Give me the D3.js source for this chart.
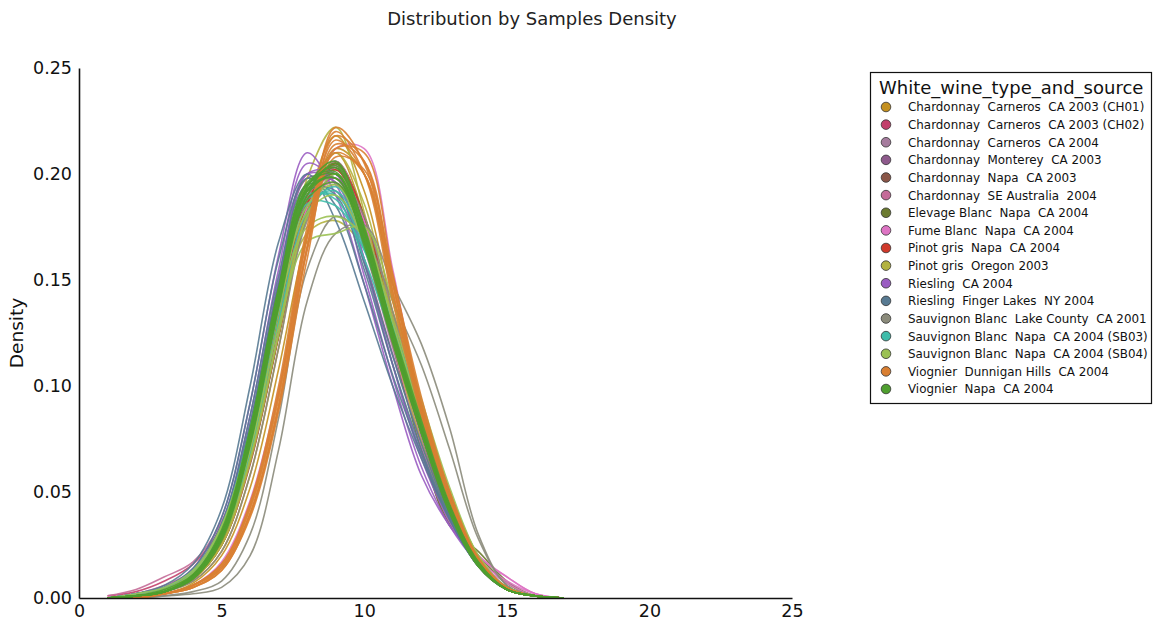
<!DOCTYPE html>
<html>
<head>
<meta charset="utf-8">
<script src="https://cdn.jsdelivr.net/npm/d3@7"></script>
<style>
  body { margin: 0; background: #fff; }
  svg { display: block; font-family: "DejaVu Sans", sans-serif; }
</style>
</head>
<body>
<svg id="chart" width="1154" height="623"></svg>
<script>
// ---- data ----
const xGrid = [1,2,3,4,5,6,7,8,9,10,11,12,13,14,15,16,17];
const xTicks = [0,5,10,15,20,25];
const yTicks = [0.00,0.05,0.10,0.15,0.20,0.25];

const categories = [
  "Chardonnay  Carneros  CA 2003 (CH01)",
  "Chardonnay  Carneros  CA 2003 (CH02)",
  "Chardonnay  Carneros  CA 2004",
  "Chardonnay  Monterey  CA 2003",
  "Chardonnay  Napa  CA 2003",
  "Chardonnay  SE Australia  2004",
  "Elevage Blanc  Napa  CA 2004",
  "Fume Blanc  Napa  CA 2004",
  "Pinot gris  Napa  CA 2004",
  "Pinot gris  Oregon 2003",
  "Riesling  CA 2004",
  "Riesling  Finger Lakes  NY 2004",
  "Sauvignon Blanc  Lake County  CA 2001",
  "Sauvignon Blanc  Napa  CA 2004 (SB03)",
  "Sauvignon Blanc  Napa  CA 2004 (SB04)",
  "Viognier  Dunnigan Hills  CA 2004",
  "Viognier  Napa  CA 2004"
];
const colors = ["#c4901f","#c2406b","#a67c9e","#8e5a8c","#8a5648","#c46b98","#6b7a2f","#de74c4",
  "#d0392b","#b2b23f","#9a5dc2","#587a92","#8b8b7b","#3fbcaa","#9bc153","#d97f32","#4f9f2f"];

const densCH01 = [
  [0,0.001,0.003,0.008,0.022,0.058,0.118,0.185,0.218,0.192,0.135,0.084,0.044,0.017,0.004,0.001,0],
  [0,0.001,0.004,0.010,0.027,0.066,0.128,0.188,0.210,0.180,0.125,0.080,0.043,0.017,0.005,0.001,0],
  [0,0.001,0.002,0.007,0.020,0.052,0.108,0.172,0.212,0.200,0.142,0.088,0.046,0.018,0.005,0.001,0]];
const densCH02 = [
  [0.001,0.003,0.008,0.016,0.034,0.075,0.135,0.185,0.198,0.172,0.125,0.080,0.042,0.016,0.004,0.001,0],
  [0,0.001,0.004,0.011,0.030,0.072,0.135,0.190,0.200,0.172,0.125,0.080,0.043,0.017,0.005,0.001,0],
  [0,0.001,0.003,0.009,0.026,0.065,0.125,0.182,0.205,0.180,0.130,0.082,0.043,0.016,0.004,0.001,0]];
const densCarneros04 = [
  [0,0.002,0.005,0.012,0.032,0.078,0.142,0.195,0.198,0.165,0.118,0.075,0.040,0.016,0.004,0.001,0],
  [0,0.001,0.004,0.010,0.028,0.070,0.132,0.188,0.200,0.170,0.125,0.080,0.042,0.016,0.004,0.001,0],
  [0,0.001,0.003,0.009,0.025,0.064,0.124,0.180,0.203,0.178,0.130,0.083,0.044,0.017,0.004,0.001,0]];
const densMonterey = [
  [0,0.002,0.005,0.013,0.035,0.082,0.148,0.198,0.196,0.160,0.115,0.074,0.040,0.016,0.004,0.001,0],
  [0,0.001,0.004,0.011,0.030,0.073,0.137,0.192,0.200,0.168,0.120,0.077,0.041,0.016,0.004,0.001,0],
  [0,0.001,0.003,0.009,0.026,0.066,0.127,0.184,0.204,0.176,0.127,0.081,0.043,0.017,0.004,0.001,0]];
const densNapa03 = [
  [0,0.001,0.004,0.011,0.029,0.071,0.134,0.190,0.200,0.170,0.122,0.079,0.043,0.015,0.004,0.001,0],
  [0,0.001,0.003,0.009,0.025,0.063,0.123,0.180,0.205,0.180,0.130,0.082,0.043,0.016,0.004,0.001,0],
  [0,0.001,0.003,0.010,0.027,0.068,0.130,0.186,0.202,0.174,0.126,0.080,0.042,0.016,0.004,0.001,0]];
const densSEAus = [
  [0.001,0.004,0.010,0.017,0.036,0.078,0.138,0.186,0.196,0.168,0.122,0.078,0.041,0.016,0.004,0.001,0],
  [0,0.002,0.006,0.013,0.032,0.074,0.136,0.190,0.198,0.168,0.121,0.078,0.042,0.016,0.004,0.001,0],
  [0,0.001,0.004,0.010,0.027,0.066,0.127,0.184,0.204,0.176,0.127,0.080,0.042,0.016,0.004,0.001,0]];
const densElevage = [
  [0,0.001,0.003,0.009,0.026,0.066,0.128,0.186,0.205,0.176,0.124,0.072,0.034,0.022,0.008,0.001,0],
  [0,0.001,0.003,0.010,0.028,0.070,0.132,0.188,0.203,0.172,0.120,0.070,0.035,0.020,0.007,0.001,0],
  [0,0.001,0.003,0.009,0.025,0.064,0.124,0.182,0.206,0.180,0.128,0.080,0.042,0.016,0.004,0.001,0]];
const densFume = [
  [0,0.001,0.002,0.006,0.017,0.046,0.098,0.165,0.212,0.212,0.155,0.090,0.046,0.020,0.010,0.002,0],
  [0,0.001,0.003,0.009,0.025,0.064,0.126,0.184,0.206,0.178,0.122,0.072,0.036,0.020,0.010,0.002,0],
  [0,0.001,0.004,0.011,0.030,0.072,0.135,0.190,0.200,0.170,0.120,0.073,0.038,0.018,0.008,0.002,0],
  [0,0.001,0.003,0.010,0.028,0.070,0.132,0.188,0.204,0.174,0.124,0.074,0.036,0.017,0.007,0.001,0]];
const densPinotNapa = [
  [0,0.001,0.003,0.010,0.027,0.068,0.130,0.186,0.202,0.174,0.130,0.085,0.046,0.017,0.004,0.001,0],
  [0,0.001,0.003,0.009,0.025,0.064,0.124,0.182,0.205,0.180,0.132,0.086,0.045,0.016,0.004,0.001,0],
  [0,0.001,0.004,0.011,0.029,0.070,0.132,0.188,0.200,0.172,0.128,0.084,0.046,0.017,0.004,0.001,0]];
const densPinotOregon = [
  [0,0.001,0.003,0.009,0.025,0.066,0.132,0.198,0.222,0.182,0.122,0.074,0.038,0.015,0.004,0.001,0],
  [0,0.001,0.003,0.010,0.028,0.070,0.130,0.180,0.195,0.172,0.128,0.084,0.046,0.018,0.005,0.001,0],
  [0,0.001,0.004,0.011,0.030,0.072,0.130,0.172,0.178,0.165,0.135,0.092,0.050,0.020,0.005,0.001,0],
  [0,0.001,0.003,0.009,0.025,0.064,0.124,0.182,0.210,0.186,0.130,0.080,0.042,0.016,0.004,0.001,0]];
const densRieslingCA = [
  [0,0.002,0.005,0.014,0.038,0.092,0.162,0.210,0.190,0.148,0.100,0.058,0.034,0.018,0.005,0.001,0],
  [0,0.002,0.005,0.013,0.035,0.086,0.155,0.205,0.195,0.152,0.104,0.062,0.034,0.016,0.004,0.001,0],
  [0,0.001,0.004,0.012,0.032,0.078,0.145,0.200,0.200,0.160,0.110,0.066,0.036,0.016,0.004,0.001,0],
  [0,0.002,0.005,0.013,0.034,0.082,0.150,0.200,0.196,0.158,0.110,0.068,0.038,0.016,0.004,0.001,0]];
const densRieslingFL = [
  [0,0.002,0.006,0.016,0.042,0.100,0.168,0.200,0.178,0.140,0.100,0.066,0.037,0.015,0.004,0.001,0],
  [0,0.002,0.005,0.014,0.038,0.092,0.160,0.198,0.185,0.148,0.105,0.068,0.037,0.015,0.004,0.001,0],
  [0,0.002,0.005,0.013,0.035,0.086,0.152,0.195,0.190,0.155,0.110,0.070,0.038,0.015,0.004,0.001,0],
  [0,0.001,0.004,0.012,0.033,0.082,0.148,0.192,0.192,0.158,0.114,0.073,0.039,0.015,0.004,0.001,0]];
const densSBLake = [
  [0,0,0.001,0.002,0.005,0.020,0.070,0.140,0.172,0.176,0.148,0.120,0.080,0.030,0.006,0.001,0],
  [0,0,0.001,0.003,0.008,0.030,0.085,0.155,0.180,0.170,0.140,0.110,0.070,0.028,0.006,0.001,0],
  [0,0.001,0.003,0.008,0.022,0.058,0.118,0.178,0.200,0.180,0.135,0.090,0.048,0.018,0.004,0.001,0]];
const densSB03 = [
  [0,0.001,0.004,0.012,0.032,0.076,0.140,0.188,0.190,0.165,0.126,0.086,0.048,0.019,0.005,0.001,0],
  [0,0.001,0.004,0.011,0.030,0.072,0.135,0.185,0.192,0.168,0.128,0.087,0.048,0.019,0.005,0.001,0],
  [0,0.002,0.005,0.013,0.034,0.080,0.144,0.190,0.188,0.160,0.122,0.084,0.046,0.018,0.005,0.001,0],
  [0,0.001,0.003,0.010,0.028,0.068,0.130,0.182,0.194,0.170,0.130,0.088,0.049,0.019,0.005,0.001,0],
  [0,0.001,0.004,0.011,0.031,0.074,0.138,0.186,0.185,0.164,0.128,0.088,0.049,0.019,0.005,0.001,0]];
const densSB04 = [
  [0,0.001,0.004,0.012,0.033,0.078,0.138,0.175,0.180,0.170,0.132,0.090,0.050,0.020,0.005,0.001,0],
  [0,0.001,0.003,0.010,0.029,0.070,0.128,0.168,0.172,0.175,0.140,0.094,0.052,0.020,0.005,0.001,0],
  [0,0.001,0.004,0.011,0.030,0.074,0.136,0.185,0.195,0.168,0.126,0.085,0.046,0.018,0.005,0.001,0],
  [0,0.001,0.003,0.010,0.027,0.066,0.125,0.180,0.200,0.175,0.130,0.086,0.046,0.018,0.004,0.001,0],
  [0,0.002,0.005,0.013,0.034,0.078,0.140,0.182,0.190,0.168,0.126,0.084,0.046,0.018,0.005,0.001,0]];
const densViognierDH = [
  [0,0,0.002,0.006,0.014,0.040,0.090,0.165,0.218,0.206,0.148,0.090,0.047,0.018,0.004,0.001,0],
  [0,0,0.002,0.006,0.015,0.042,0.094,0.170,0.222,0.205,0.145,0.088,0.046,0.017,0.004,0.001,0],
  [0,0.001,0.002,0.006,0.016,0.044,0.097,0.172,0.216,0.200,0.144,0.088,0.047,0.018,0.004,0.001,0],
  [0,0,0.002,0.005,0.013,0.038,0.088,0.160,0.212,0.210,0.153,0.092,0.048,0.018,0.004,0.001,0],
  [0,0.001,0.002,0.006,0.016,0.045,0.100,0.175,0.220,0.200,0.140,0.086,0.046,0.017,0.004,0.001,0],
  [0,0,0.002,0.005,0.014,0.040,0.091,0.166,0.214,0.206,0.150,0.090,0.047,0.018,0.004,0.001,0],
  [0,0.001,0.002,0.006,0.015,0.043,0.096,0.170,0.210,0.200,0.148,0.092,0.050,0.019,0.005,0.001,0],
  [0,0,0.002,0.005,0.013,0.039,0.090,0.164,0.208,0.202,0.152,0.095,0.050,0.019,0.005,0.001,0]];
const densViognierNapa = [
  [0,0.001,0.003,0.010,0.030,0.078,0.145,0.195,0.200,0.168,0.122,0.080,0.042,0.016,0.004,0.001,0],
  [0,0.001,0.003,0.010,0.029,0.075,0.140,0.192,0.204,0.172,0.124,0.080,0.042,0.016,0.004,0.001,0],
  [0,0.001,0.003,0.011,0.031,0.079,0.146,0.196,0.201,0.166,0.120,0.078,0.041,0.016,0.004,0.001,0],
  [0,0.001,0.003,0.009,0.027,0.072,0.137,0.190,0.205,0.175,0.126,0.081,0.042,0.016,0.004,0.001,0],
  [0,0.001,0.004,0.011,0.032,0.080,0.146,0.192,0.198,0.168,0.122,0.080,0.042,0.016,0.004,0.001,0],
  [0,0.001,0.003,0.010,0.029,0.076,0.142,0.194,0.203,0.170,0.121,0.078,0.040,0.015,0.004,0.001,0],
  [0,0.001,0.003,0.010,0.030,0.077,0.143,0.193,0.198,0.168,0.124,0.082,0.043,0.017,0.004,0.001,0],
  [0,0.001,0.003,0.009,0.028,0.073,0.138,0.190,0.200,0.172,0.126,0.082,0.042,0.016,0.004,0.001,0],
  [0,0.001,0.003,0.010,0.030,0.076,0.140,0.188,0.196,0.170,0.127,0.084,0.044,0.017,0.004,0.001,0],
  [0,0.001,0.003,0.010,0.029,0.074,0.140,0.194,0.206,0.174,0.124,0.078,0.040,0.015,0.004,0.001,0]];

const seriesByCategory = [densCH01, densCH02, densCarneros04, densMonterey, densNapa03, densSEAus,
  densElevage, densFume, densPinotNapa, densPinotOregon, densRieslingCA, densRieslingFL,
  densSBLake, densSB03, densSB04, densViognierDH, densViognierNapa];

// ---- drawing ----
const svg = d3.select("#chart");
const x = d3.scaleLinear().domain([0, 25]).range([79, 792]);
const y = d3.scaleLinear().domain([0, 0.25]).range([598, 68]);

svg.append("text")
  .attr("x", 532).attr("y", 25)
  .attr("text-anchor", "middle")
  .attr("font-size", 18).attr("fill", "#222")
  .text("Distribution by Samples Density");

svg.append("defs").append("clipPath").attr("id", "plotclip")
  .append("rect").attr("x", 79).attr("y", 40).attr("width", 713).attr("height", 558);

const line = d3.line()
  .x((d, i) => x(xGrid[i]))
  .y(d => y(d))
  .curve(d3.curveCatmullRom.alpha(0.5));

const g = svg.append("g").attr("clip-path", "url(#plotclip)");
seriesByCategory.forEach((curves, ci) => {
  curves.forEach(vals => {
    g.append("path")
      .attr("d", line(vals))
      .attr("fill", "none")
      .attr("stroke", colors[ci])
      .attr("stroke-width", 1.6)
      .attr("stroke-opacity", 0.9);
  });
});

// axes
const yAxis = d3.axisLeft(y).tickValues(yTicks).tickFormat(d3.format(".2f"))
  .tickSize(0).tickSizeOuter(0).tickPadding(7);
const yg = svg.append("g").attr("transform", "translate(79,0)").call(yAxis);
const xAxis = d3.axisBottom(x).tickValues(xTicks).tickFormat(d3.format("d"))
  .tickSize(0).tickSizeOuter(0).tickPadding(7);
const xg = svg.append("g").attr("transform", "translate(0,598)").call(xAxis);
[yg, xg].forEach(a => {
  a.select(".domain").attr("stroke", "#111").attr("stroke-width", 1.6);
  a.selectAll("text").attr("font-size", 17.5).attr("fill", "#111")
    .attr("font-family", "DejaVu Sans, sans-serif");
});

svg.append("text")
  .attr("transform", "translate(17,333) rotate(-90)")
  .attr("text-anchor", "middle")
  .attr("dy", "0.35em")
  .attr("font-size", 18.5).attr("fill", "#111")
  .text("Density");

// legend
const lg = svg.append("g");
lg.append("rect").attr("x", 870.5).attr("y", 72.5).attr("width", 281).attr("height", 331)
  .attr("fill", "#fff").attr("stroke", "#111").attr("stroke-width", 1.2);
lg.append("text").attr("x", 879).attr("y", 94).attr("font-size", 18).attr("fill", "#111")
  .text("White_wine_type_and_source");
const ly = d3.scaleLinear().domain([0, categories.length - 1]).range([107, 389]);
const items = categories.map((c, i) => {
  lg.append("circle").attr("cx", 886).attr("cy", ly(i)).attr("r", 4.8)
    .attr("fill", colors[i]).attr("stroke", "#333").attr("stroke-width", 0.8);
  return lg.append("text").attr("x", 908).attr("y", ly(i) + 4.4)
    .attr("font-size", 12).attr("fill", "#111")
    .attr("xml:space", "preserve").style("white-space", "pre")
    .text(c);
});
// fit the widest legend entry to the width it takes in the reference
const maxW = d3.max(items, t => t.node().getComputedTextLength());
const fs = Math.min(13.5, 12 * 240 / maxW);
items.forEach(t => t.attr("font-size", fs));
</script>
</body>
</html>
